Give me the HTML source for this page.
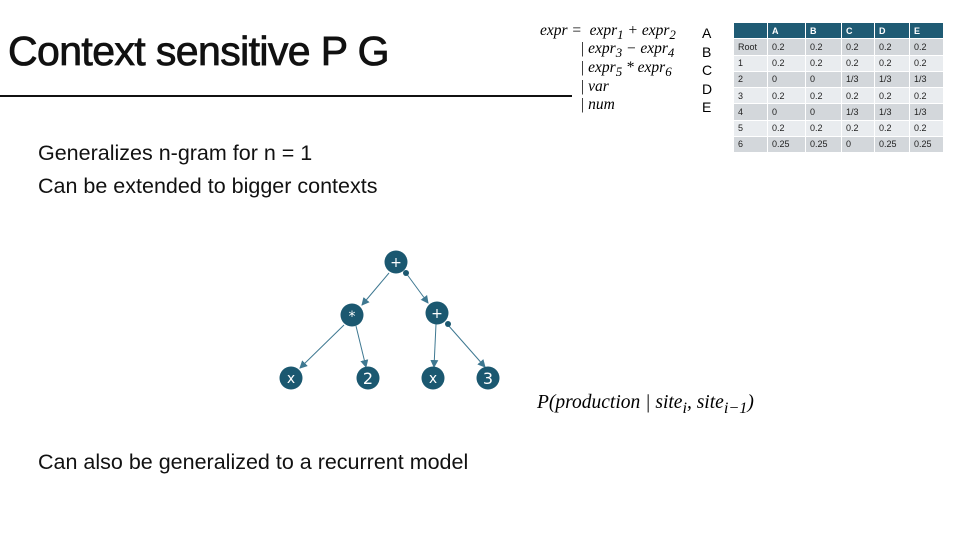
<!DOCTYPE html>
<html><head><style>
body{margin:0;width:960px;height:540px;background:#fff;position:relative;overflow:hidden;font-family:"Liberation Sans",sans-serif;}
.a{position:absolute;white-space:nowrap}
.m{font-family:"Liberation Serif",serif;font-style:italic;font-size:15.5px}
table{position:absolute;left:733px;top:22px;border-collapse:collapse;font-size:9px;color:#222}
td{height:15.25px;padding:0 0 0 4px;border:1px solid #fff;background:#e9ecef}
tr.h td{background:#1f5b74;color:#fff;font-weight:bold}
tr.o td{background:#d3d7db}
.t{font-size:21.5px;color:#111}
</style></head><body>
<div class="a" style="left:8px;top:28px;font-size:41px;color:#111;letter-spacing:-0.6px;-webkit-text-stroke:0.8px #111">Context sensitive P G</div>
<div class="a" style="left:0;top:95px;width:572px;height:2px;background:#111"></div>
<div class="a m" style="left:540px;top:22px">expr = &nbsp;expr<sub>1</sub> + expr<sub>2</sub></div>
<div class="a m" style="left:580px;top:40px">| expr<sub>3</sub> − expr<sub>4</sub></div>
<div class="a m" style="left:580px;top:59px">| expr<sub>5</sub> * expr<sub>6</sub></div>
<div class="a m" style="left:580px;top:78px">| var</div>
<div class="a m" style="left:580px;top:96px">| num</div>
<div class="a" style="left:702px;top:24px;font-size:14px;line-height:18.6px">A<br>B<br>C<br>D<br>E</div>
<table>
<colgroup><col style="width:34px"><col style="width:38px"><col style="width:36px"><col style="width:33px"><col style="width:35px"><col style="width:34px"></colgroup>
<tr class="h"><td></td><td>A</td><td>B</td><td>C</td><td>D</td><td>E</td></tr>
<tr class="o"><td>Root</td><td>0.2</td><td>0.2</td><td>0.2</td><td>0.2</td><td>0.2</td></tr>
<tr><td>1</td><td>0.2</td><td>0.2</td><td>0.2</td><td>0.2</td><td>0.2</td></tr>
<tr class="o"><td>2</td><td>0</td><td>0</td><td>1/3</td><td>1/3</td><td>1/3</td></tr>
<tr><td>3</td><td>0.2</td><td>0.2</td><td>0.2</td><td>0.2</td><td>0.2</td></tr>
<tr class="o"><td>4</td><td>0</td><td>0</td><td>1/3</td><td>1/3</td><td>1/3</td></tr>
<tr><td>5</td><td>0.2</td><td>0.2</td><td>0.2</td><td>0.2</td><td>0.2</td></tr>
<tr class="o"><td>6</td><td>0.25</td><td>0.25</td><td>0</td><td>0.25</td><td>0.25</td></tr>
</table>
<div class="a t" style="left:38px;top:141px">Generalizes n-gram for n = 1</div>
<div class="a t" style="left:38px;top:174px">Can be extended to bigger contexts</div>
<div class="a t" style="left:38px;top:450px">Can also be generalized to a recurrent model</div>
<div class="a m" style="left:537px;top:392px;font-size:19.5px">P(production | site<sub>i</sub>, site<sub>i−1</sub>)</div>
<svg class="a" style="left:0;top:0" width="960" height="540">
<defs><marker id="ar" markerWidth="8" markerHeight="8" refX="7" refY="4" orient="auto" markerUnits="userSpaceOnUse"><path d="M0,0L8,4L0,8z" fill="#3e7891"/></marker></defs>
<g stroke="#3e7891" stroke-width="1" fill="none" marker-end="url(#ar)">
<line x1="389" y1="273" x2="362" y2="305"/>
<line x1="406" y1="273" x2="428" y2="303"/>
<line x1="344" y1="325" x2="300" y2="368"/>
<line x1="356" y1="326" x2="366" y2="367"/>
<line x1="436" y1="324" x2="434" y2="367"/>
<line x1="448" y1="325" x2="485" y2="367"/>
</g>
<g fill="#1b5870">
<circle cx="396" cy="262" r="11.5"/><circle cx="352" cy="315" r="11.5"/><circle cx="437" cy="313" r="11.5"/>
<circle cx="291" cy="378" r="11.5"/><circle cx="368" cy="378" r="11.5"/><circle cx="433" cy="378" r="11.5"/><circle cx="488" cy="378" r="11.5"/>
<circle cx="406" cy="273" r="3"/><circle cx="448" cy="324" r="3"/>
</g>
<g fill="#fff" font-family="DejaVu Sans,sans-serif" font-size="14" text-anchor="middle">
<text x="396" y="267">+</text><text x="352" y="321">*</text><text x="437" y="318">+</text>
<text x="291" y="383">x</text><text x="368" y="384" font-size="16">2</text><text x="433" y="383">x</text><text x="488" y="384" font-size="16">3</text>
</g>
</svg>
</body></html>
